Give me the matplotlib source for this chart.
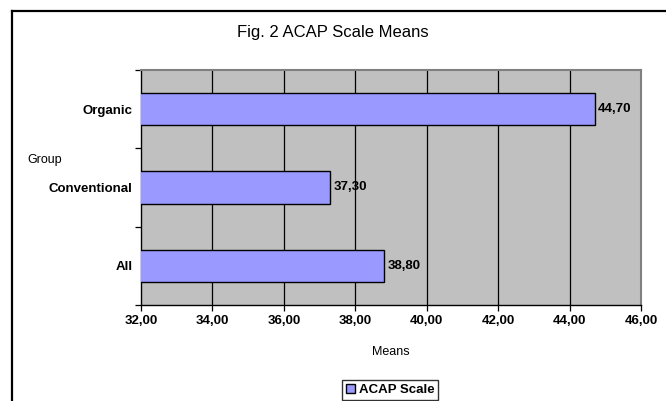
import matplotlib.pyplot as plt
from matplotlib.lines import Line2D
from matplotlib.ticker import FixedLocator, FuncFormatter

plt.rcParams['font.family'] = ['Liberation Sans', 'DejaVu Sans']

groups = ['All', 'Conventional', 'Organic']
means = [38.80, 37.30, 44.70]
series_name = 'ACAP Scale'
x_ticks = [32, 34, 36, 38, 40, 42, 44, 46]


def comma(v, pos=None):
    return f'{v:.2f}'.replace('.', ',')


fig = plt.figure(figsize=(6.66, 4.01), dpi=100)
W, H = 666, 401
ax = fig.add_axes([141 / W, 1 - 305 / H, 500 / W, 235 / H])
ax.set_facecolor('#C0C0C0')

ypos = range(len(groups))
bars = ax.barh(ypos, means, height=0.41, color='#9999FF', edgecolor='black',
               linewidth=1.0, label=series_name, zorder=3)

ax.set_xlim(32, 46)
ax.set_ylim(-0.5, len(groups) - 0.5)

# vertical gridlines at the major ticks
for t in x_ticks[1:-1]:
    ax.axvline(t, color='black', linewidth=0.9, zorder=1)

ax.xaxis.set_major_locator(FixedLocator(x_ticks))
ax.xaxis.set_major_formatter(FuncFormatter(comma))
ax.set_yticks([i - 0.5 for i in range(len(groups) + 1)], minor=False)
ax.set_yticklabels([])
ax.set_yticks(list(ypos), minor=True)
ax.set_yticklabels(groups, minor=True, fontsize=9.5, fontweight='bold')
ax.tick_params(axis='y', which='minor', length=0, pad=6)
ax.tick_params(axis='y', which='major', length=4, width=0.9, direction='out')
ax.tick_params(axis='x', length=4, width=0.9, direction='out', labelsize=9.5, pad=3)
for lab in ax.get_xticklabels():
    lab.set_fontweight('bold')

for s in ['left', 'bottom']:
    ax.spines[s].set_color('black')
    ax.spines[s].set_linewidth(1.0)
for s in ['top', 'right']:
    ax.spines[s].set_color('#808080')
    ax.spines[s].set_linewidth(1.5)

for b, v in zip(bars, means):
    ax.text(v + 0.1, b.get_y() + b.get_height() / 2, comma(v), va='center',
            ha='left', fontsize=9.5, fontweight='bold', zorder=4)

ax.set_xlabel('Means', fontsize=9, labelpad=14)
fig.text(27 / W, 1 - 160 / H, 'Group', fontsize=9, ha='left', va='center')
fig.text(333 / W, 1 - 33 / H, 'Fig. 2 ACAP Scale Means', fontsize=12,
         ha='center', va='center')

leg = fig.legend(handles=[bars], labels=[series_name], loc='upper center',
                 bbox_to_anchor=(390 / W, 1 - 380 / H), frameon=True,
                 fancybox=False, edgecolor='black', handlelength=0.7,
                 handleheight=0.7, handletextpad=0.3, borderpad=0.3,
                 borderaxespad=0.0, prop={'size': 9.5, 'weight': 'bold'})
leg.get_frame().set_linewidth(1.0)

# outer chart frame, running off the right and bottom edges
fig.add_artist(Line2D([12 / W, 12 / W], [0, 1 - 11 / H], color='black',
                      linewidth=1.6, transform=fig.transFigure))
fig.add_artist(Line2D([12 / W, 1], [1 - 11 / H, 1 - 11 / H], color='black',
                      linewidth=1.6, transform=fig.transFigure))

fig.savefig('out.png', dpi=100)
